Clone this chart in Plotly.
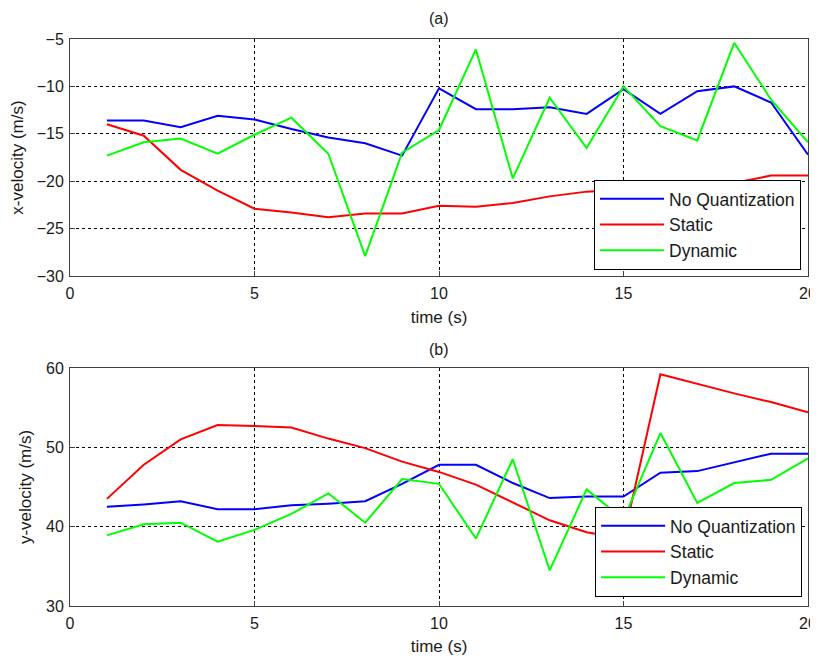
import plotly.graph_objects as go
from plotly.subplots import make_subplots

time_s = list(range(1, 21))

# (a) x-velocity (m/s)
vx_no_quant = [-13.6, -13.6, -14.3, -13.1, -13.5, -14.5, -15.4, -16.0, -17.3, -10.2,
               -12.4, -12.4, -12.2, -12.9, -10.3, -12.9, -10.5, -10.0, -11.7, -17.2]
vx_static = [-14.0, -15.2, -18.8, -21.0, -22.9, -23.3, -23.8, -23.4, -23.4, -22.6,
             -22.7, -22.3, -21.6, -21.1, -20.9, -20.6, -20.3, -20.2, -19.4, -19.4]
vx_dynamic = [-17.3, -15.9, -15.5, -17.1, -15.1, -13.3, -17.1, -27.9, -17.0, -14.6,
              -6.1, -19.7, -11.2, -16.5, -10.0, -14.2, -15.7, -5.4, -11.4, -15.9]

# (b) y-velocity (m/s)
vy_no_quant = [42.5, 42.8, 43.2, 42.2, 42.2, 42.7, 42.9, 43.2, 45.4, 47.8,
               47.8, 45.5, 43.6, 43.8, 43.8, 46.8, 47.0, 48.1, 49.2, 49.2]
vy_static = [43.5, 47.8, 51.0, 52.8, 52.7, 52.5, 51.1, 49.9, 48.2, 46.9,
             45.3, 43.0, 40.8, 39.3, 38.5, 59.2, 58.0, 56.8, 55.7, 54.4]
vy_dynamic = [38.9, 40.3, 40.5, 38.1, 39.6, 41.6, 44.2, 40.5, 46.0, 45.4,
              38.5, 48.5, 34.5, 44.7, 40.9, 51.8, 43.0, 45.5, 45.9, 48.6]

series_names = ["No Quantization", "Static", "Dynamic"]
series_colors = ["#0000FF", "#FF0000", "#00FF00"]

FONT = "Liberation Sans, Arial, sans-serif"
TXT = "#1a1a1a"

fig = make_subplots(rows=2, cols=1, vertical_spacing=0.0)

for vals, name, col in zip([vx_no_quant, vx_static, vx_dynamic], series_names, series_colors):
    fig.add_trace(go.Scatter(x=time_s, y=vals, mode="lines", name=name,
                             line=dict(color=col, width=2), legend="legend"), row=1, col=1)
for vals, name, col in zip([vy_no_quant, vy_static, vy_dynamic], series_names, series_colors):
    fig.add_trace(go.Scatter(x=time_s, y=vals, mode="lines", name=name,
                             line=dict(color=col, width=2), legend="legend2"), row=2, col=1)

axis_common = dict(
    showline=True, linecolor="#404040", linewidth=1, mirror=True,
    ticks="inside", ticklen=5, tickcolor="#404040",
    showgrid=True, gridcolor="#000000", gridwidth=1, griddash="3px,3px",
    zeroline=False, tickfont=dict(family=FONT, size=16, color=TXT),
    automargin=False, ticklabeloverflow="allow",
)

fig.update_xaxes(range=[0, 20], dtick=5, ticklabelstandoff=3, **axis_common)
fig.update_yaxes(ticklabelstandoff=2, **axis_common)

title_font = dict(family=FONT, size=17, color=TXT)
legend_font = dict(family=FONT, size=17.5, color=TXT)

fig.update_layout(
    width=810, height=651,
    margin=dict(l=62, r=10, t=31, b=53),
    plot_bgcolor="white", paper_bgcolor="white",
    font=dict(family=FONT, size=16, color=TXT),
    xaxis=dict(domain=[0, 1], title=dict(text="time (s)", standoff=9, font=title_font)),
    xaxis2=dict(domain=[0, 1], title=dict(text="time (s)", standoff=8, font=title_font)),
    yaxis=dict(domain=[0.582, 1.0], range=[-30, -5], dtick=5,
               title=dict(text="x-velocity (m/s)", standoff=10, font=title_font)),
    yaxis2=dict(domain=[0.0, 0.4198], range=[30, 60], dtick=10,
                title=dict(text="y-velocity (m/s)", standoff=10, font=title_font)),
    legend=dict(x=0.9905, y=0.5926, xanchor="right", yanchor="bottom",
                bgcolor="white", bordercolor="#000000", borderwidth=1,
                font=legend_font, itemwidth=64, tracegroupgap=0),
    legend2=dict(x=0.992, y=0.0159, xanchor="right", yanchor="bottom",
                 bgcolor="white", bordercolor="#000000", borderwidth=1,
                 font=legend_font, itemwidth=64, tracegroupgap=0),
    annotations=[
        dict(text="(a)", x=0.5, y=1.0, xref="paper", yref="paper", yshift=21,
             showarrow=False, yanchor="middle", font=dict(family=FONT, size=16, color=TXT)),
        dict(text="(b)", x=0.5, y=0.4198, xref="paper", yref="paper", yshift=18,
             showarrow=False, yanchor="middle", font=dict(family=FONT, size=16, color=TXT)),
    ],
)

fig.write_html("out.html")
